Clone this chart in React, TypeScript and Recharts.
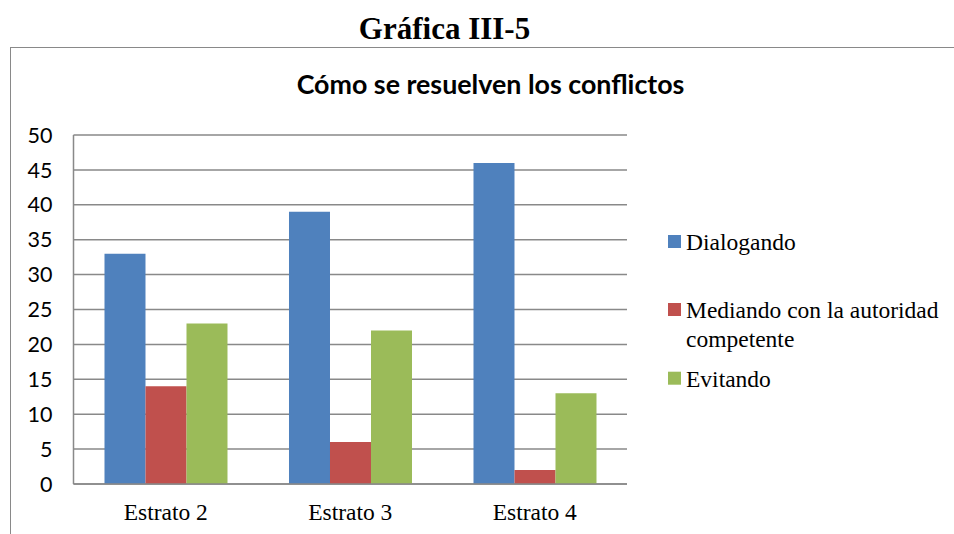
import { BarChart, Bar, XAxis, YAxis, CartesianGrid, Legend } from 'recharts';

const categories = ['Estrato 2', 'Estrato 3', 'Estrato 4'];
const seriesNames = ['Dialogando', 'Mediando con la autoridad competente', 'Evitando'];
const dialogando = [33, 39, 46];
const mediando = [14, 6, 2];
const evitando = [23, 22, 13];
const yTicks = [0, 5, 10, 15, 20, 25, 30, 35, 40, 45, 50];

const data = categories.map((name, i) => ({
    name,
    dialogando: dialogando[i],
    mediando: mediando[i],
    evitando: evitando[i],
}));

const serif = '"Liberation Serif", "Times New Roman", serif';
const sans = 'Lato, "Open Sans", sans-serif';
const gridColor = '#898989';

// legend rows: first-line baseline of each item, relative to the legend box
const legendRowY = [22, 90, 158.7];
const legendLineHeight = 28.7;

function renderLegend(props: any) {
    const items = [...(props.payload || [])].sort(
        (a: any, b: any) => seriesNames.indexOf(a.value) - seriesNames.indexOf(b.value)
    );
    return (
        <svg width={286} height={175} style={{ display: 'block' }}>
            {items.map((item: any, i: number) => {
                const lines = item.value === seriesNames[1] ? ['Mediando con la autoridad', 'competente'] : [item.value];
                const y = legendRowY[i];
                return (
                    <g key={item.value}>
                        <rect x={0} y={y - 15} width={13} height={13} fill={item.color} />
                        <text x={18} y={y} fontFamily={serif} fontSize={23.5} fill="#000">
                            {lines.map((l, k) => (
                                <tspan key={k} x={18} y={y + k * legendLineHeight}>{l}</tspan>
                            ))}
                        </text>
                    </g>
                );
            })}
        </svg>
    );
}

export default function App() {
    return (
        <div style={{ position: 'absolute', left: 0, top: 0, width: 954, height: 534, overflow: 'hidden', background: '#fff' }}>
            <div style={{ position: 'absolute', left: 10, top: 47, width: 1000, height: 600, border: `1.5px solid ${gridColor}` }} />
            <div style={{ position: 'absolute', left: 0, width: 889, top: 13, textAlign: 'center', fontFamily: serif, fontWeight: 'bold', fontSize: 31, lineHeight: 1 }}>
                Gráfica III-5
            </div>
            <div style={{ position: 'absolute', left: 0, width: 981, top: 71, textAlign: 'center', fontFamily: sans, fontWeight: 'bold', fontSize: 26.8, lineHeight: 1 }}>
                Cómo se resuelven los conflictos
            </div>
            <div style={{ position: 'absolute', left: 0, top: 0 }}>
                <BarChart
                    width={954}
                    height={534}
                    data={data}
                    margin={{ top: 135, right: 327, bottom: 0, left: 13.5 }}
                    barGap={0}
                    barCategoryGap="16.8%"
                >
                    <CartesianGrid vertical={false} stroke={gridColor} strokeWidth={1.5} />
                    <XAxis
                        dataKey="name"
                        height={50}
                        tickSize={0}
                        tickMargin={19}
                        axisLine={{ stroke: gridColor, strokeWidth: 1.5 }}
                        tick={{ fill: '#000', fontFamily: serif, fontSize: 23.5 }}
                    />
                    <YAxis
                        width={60}
                        domain={[0, 50]}
                        ticks={yTicks}
                        interval={0}
                        tickSize={0}
                        tickMargin={21}
                        axisLine={{ stroke: gridColor, strokeWidth: 1.5 }}
                        tick={{ fill: '#000', fontFamily: sans, fontSize: 21.5 }}
                    />
                    <Legend
                        layout="vertical"
                        align="center"
                        verticalAlign="middle"
                        wrapperStyle={{ left: 668, top: 228, width: 286 }}
                        content={renderLegend}
                    />
                    <Bar dataKey="dialogando" name={seriesNames[0]} fill="#4F81BD" isAnimationActive={false} />
                    <Bar dataKey="mediando" name={seriesNames[1]} fill="#C0504D" isAnimationActive={false} />
                    <Bar dataKey="evitando" name={seriesNames[2]} fill="#9BBB59" isAnimationActive={false} />
                </BarChart>
            </div>
        </div>
    );
}
